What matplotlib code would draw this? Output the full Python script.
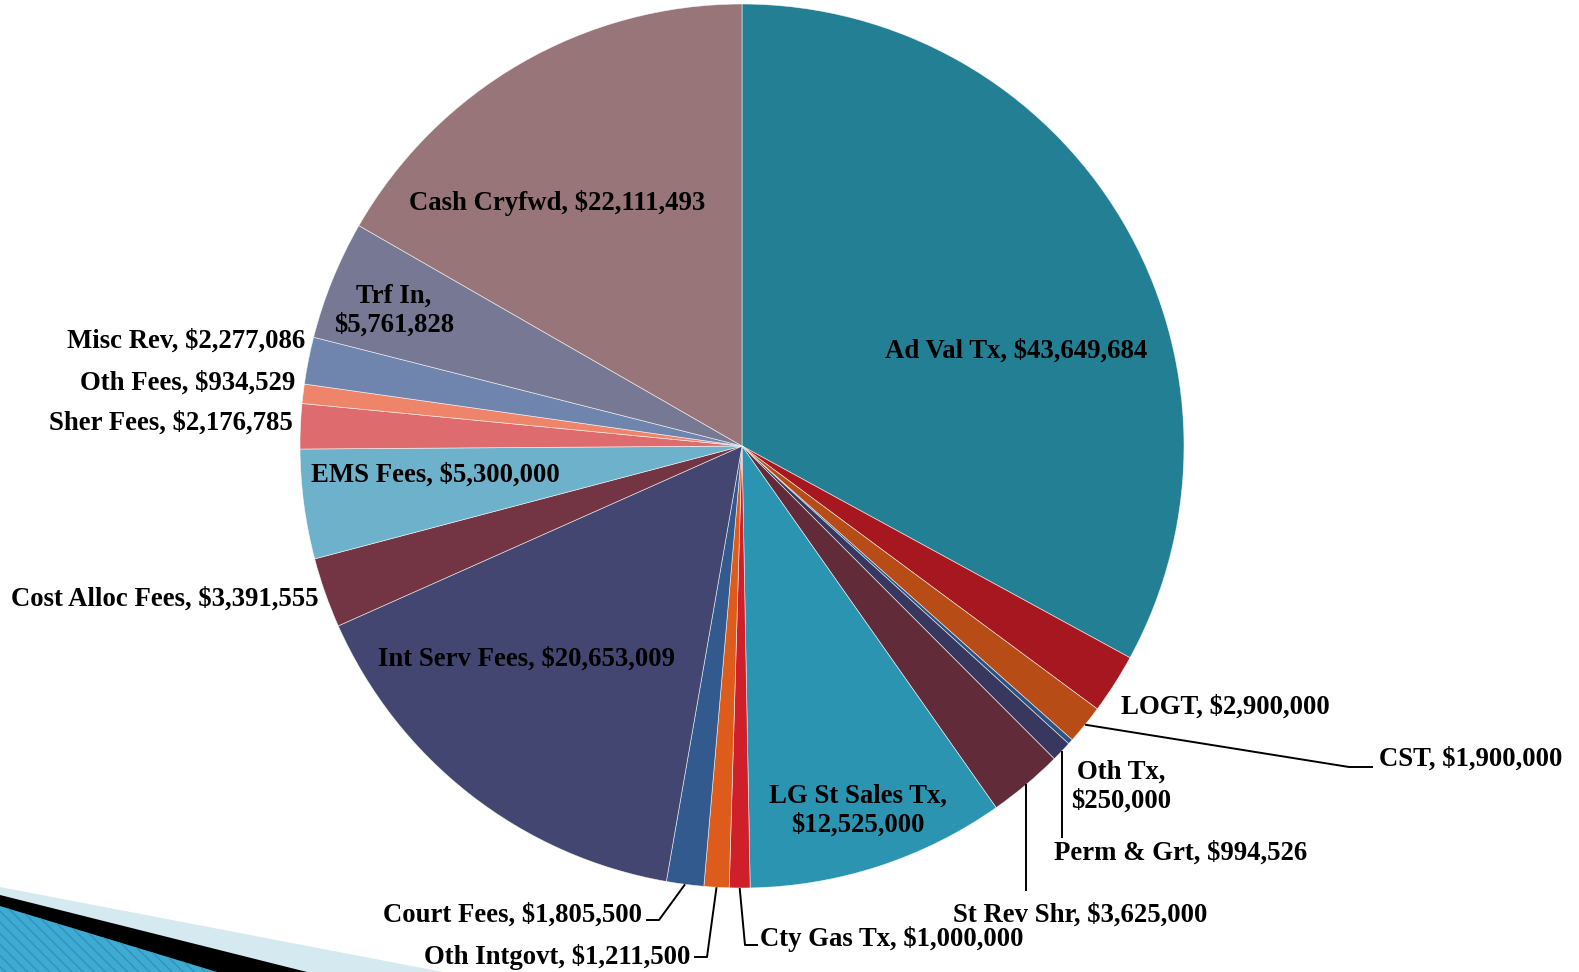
import matplotlib
matplotlib.use("Agg")
import matplotlib.pyplot as plt
from matplotlib.patches import Polygon
import numpy as np

W, H = 1579, 972

# ---- data ----
categories = ["Ad Val Tx", "LOGT", "CST", "Oth Tx", "Perm & Grt", "St Rev Shr",
              "LG St Sales Tx", "Cty Gas Tx", "Oth Intgovt", "Court Fees",
              "Int Serv Fees", "Cost Alloc Fees", "EMS Fees", "Sher Fees",
              "Oth Fees", "Misc Rev", "Trf In", "Cash Cryfwd"]
values = [43649684, 2900000, 1900000, 250000, 994526, 3625000,
          12525000, 1000000, 1211500, 1805500,
          20653009, 3391555, 5300000, 2176785,
          934529, 2277086, 5761828, 22111493]
two_line = {"Oth Tx", "LG St Sales Tx", "Trf In"}

# ---- style ----
colors = ["#237F94", "#A6171F", "#B84C16", "#2C5282", "#383760", "#622B3A",
          "#2A94B1", "#CE1F2B", "#DD5C1C", "#335A8E",
          "#434670", "#733443", "#6EB1CA", "#DE6B6D",
          "#EE856B", "#7085AE", "#777894", "#987579"]

# label layout (image pixel coords: x, y-from-top, horizontal alignment)
label_pos = {
    "Ad Val Tx": (1016, 351, "center"),
    "LOGT": (1225, 707, "center"),
    "CST": (1379, 759, "left"),
    "Oth Tx": (1121, 787, "center"),
    "Perm & Grt": (1181, 853, "center"),
    "St Rev Shr": (1080, 915, "center"),
    "LG St Sales Tx": (858, 811, "center"),
    "Cty Gas Tx": (760, 939, "left"),
    "Oth Intgovt": (690, 957, "right"),
    "Court Fees": (642, 915, "right"),
    "Int Serv Fees": (526, 659, "center"),
    "Cost Alloc Fees": (165, 599, "center"),
    "EMS Fees": (435, 475, "center"),
    "Sher Fees": (293, 423, "right"),
    "Oth Fees": (295, 383, "right"),
    "Misc Rev": (305, 341, "right"),
    "Trf In": (394, 311, "center"),
    "Cash Cryfwd": (557, 203, "center"),
}
# leader line elbows (image coords); first point is taken from the wedge
leaders = {
    "CST": [(1349, 767), (1373, 767)],
    "Perm & Grt": [(None, 838)],
    "St Rev Shr": [(None, 891)],
    "Court Fees": [(659, 920), (646, 920)],
    "Oth Intgovt": [(707, 957), (694, 957)],
    "Cty Gas Tx": [(745, 945), (758, 945)],
}

CX, CY, R = 742, 446, 442

def Y(y):
    return H - y

fig = plt.figure(figsize=(W / 100, H / 100), dpi=100)
ax = fig.add_axes([0, 0, 1, 1])

# decorative swoosh (bottom-left)
ax.add_patch(Polygon([(0, Y(887)), (443, Y(972)), (0, Y(972))], closed=True,
                     facecolor="#D5E9F1", edgecolor="none", zorder=0))
ax.add_patch(Polygon([(0, Y(895)), (307, Y(972)), (0, Y(972))], closed=True,
                     facecolor="#000000", edgecolor="none", zorder=0))
ax.add_patch(Polygon([(0, Y(906)), (217, Y(972)), (0, Y(972))], closed=True,
                     facecolor="#3FAAD2", edgecolor="#2F93BA", hatch="\\\\\\",
                     linewidth=0, zorder=0))

wedges, _ = ax.pie(values, colors=colors, startangle=90, counterclock=False,
                   center=(CX, Y(CY)), radius=R,
                   wedgeprops=dict(edgecolor=(1, 1, 1, 0.7), linewidth=0.5))

ax.set_xlim(0, W)
ax.set_ylim(0, H)
ax.set_aspect("equal")
ax.axis("off")

font = dict(family=["Liberation Serif", "DejaVu Serif"], weight="bold",
            fontsize=19.3, color="black")

for name, val, w in zip(categories, values, wedges):
    sep = "\n" if name in two_line else " "
    txt = f"{name},{sep}${val:,}"
    x, y, ha = label_pos[name]
    ax.text(x, Y(y), txt, ha=ha, va="center", multialignment="center",
            linespacing=1.22, zorder=5, **font)
    if name in leaders:
        th = np.deg2rad((w.theta1 + w.theta2) / 2)
        sx = CX + R * np.cos(th)
        sy = Y(CY) + R * np.sin(th)
        xs, ys = [sx], [sy]
        for px, py in leaders[name]:
            xs.append(sx if px is None else px)
            ys.append(Y(py))
        ax.plot(xs, ys, color="black", linewidth=1.4, zorder=4,
                solid_capstyle="butt")

fig.savefig("out.png", dpi=100)
